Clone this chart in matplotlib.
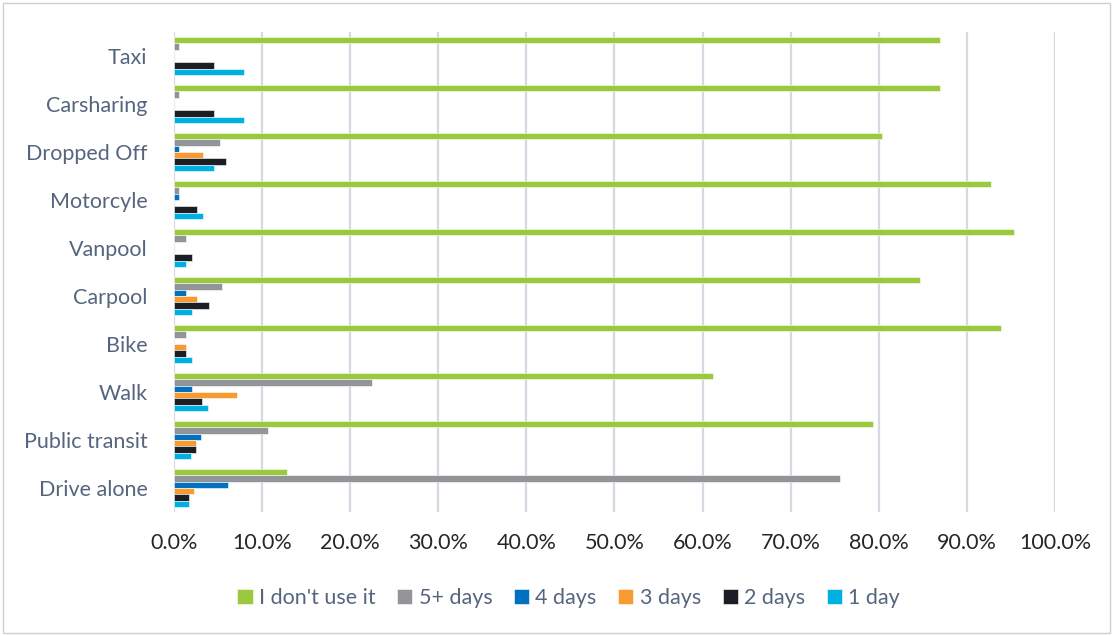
import matplotlib
matplotlib.use("Agg")
import matplotlib.pyplot as plt
from matplotlib.patches import Rectangle
from matplotlib.ticker import FuncFormatter
import numpy as np

plt.rcParams['font.family'] = ['Lato', 'DejaVu Sans']

modes = ["Taxi", "Carsharing", "Dropped Off", "Motorcyle", "Vanpool",
         "Carpool", "Bike", "Walk", "Public transit", "Drive alone"]

series = ["I don't use it", "5+ days", "4 days", "3 days", "2 days", "1 day"]

dont_use = [86.9, 86.9, 80.4, 92.7, 95.3, 84.7, 93.9, 61.2, 79.3, 12.8]
days_5plus = [0.6, 0.6, 5.2, 0.6, 1.4, 5.4, 1.4, 22.5, 10.7, 75.6]
days_4 = [0.0, 0.0, 0.6, 0.6, 0.0, 1.4, 0.0, 2.0, 3.1, 6.1]
days_3 = [0.0, 0.0, 3.3, 0.0, 0.0, 2.6, 1.4, 7.1, 2.5, 2.3]
days_2 = [4.6, 4.6, 5.9, 2.6, 2.1, 4.0, 1.4, 3.2, 2.5, 1.7]
day_1 = [7.9, 7.9, 4.6, 3.3, 1.4, 2.0, 2.0, 3.9, 1.9, 1.7]

colors = ["#9BC93D", "#939498", "#0070C0", "#F79A30", "#1B1E24", "#00B0E0"]

values = [dont_use, days_5plus, days_4, days_3, days_2, day_1]

fig = plt.figure(figsize=(11.13, 6.36), dpi=100)
fig.patches.append(Rectangle((0.003, 0.004), 0.994, 0.992, transform=fig.transFigure,
                             fill=False, edgecolor="#D0D0D0", linewidth=1.0))
ax = fig.add_axes([0.1563, 0.195, 0.7916, 0.7547])

n = len(series)
slot = 0.8 / n
centers = np.arange(len(modes))[::-1].astype(float)
for i, (name, vals, col) in enumerate(zip(series, values, colors)):
    y = centers + 0.4 - slot * (i + 0.5)
    ax.barh(y, vals, height=slot, color=col, edgecolor="white", linewidth=0.4,
            label=name, zorder=3)

ax.set_xlim(0, 100)
ax.set_ylim(-0.5, len(modes) - 0.5)
ax.set_xticks(np.arange(0, 101, 10))
ax.xaxis.set_major_formatter(FuncFormatter(lambda v, p: f"{v:.1f}%"))
ax.set_yticks(centers)
ax.set_yticklabels(modes)

ax.grid(axis="x", color="#D5D9E2", linewidth=1.6, zorder=0)
ax.grid(axis="y", visible=False)
for s in ax.spines.values():
    s.set_visible(False)
ax.tick_params(axis="both", length=0)
ax.tick_params(axis="x", pad=15, labelsize=15.5, labelcolor="#262626")
ax.tick_params(axis="y", pad=19, labelsize=15.5, labelcolor="#56657E")

leg = fig.legend(loc="center", bbox_to_anchor=(0.511, 0.06), ncol=6, frameon=False,
                 fontsize=15.5, handlelength=0.7, handleheight=0.7,
                 handletextpad=0.3, columnspacing=1.0)
for t in leg.get_texts():
    t.set_color("#56657E")

fig.savefig("out.png", dpi=100)
